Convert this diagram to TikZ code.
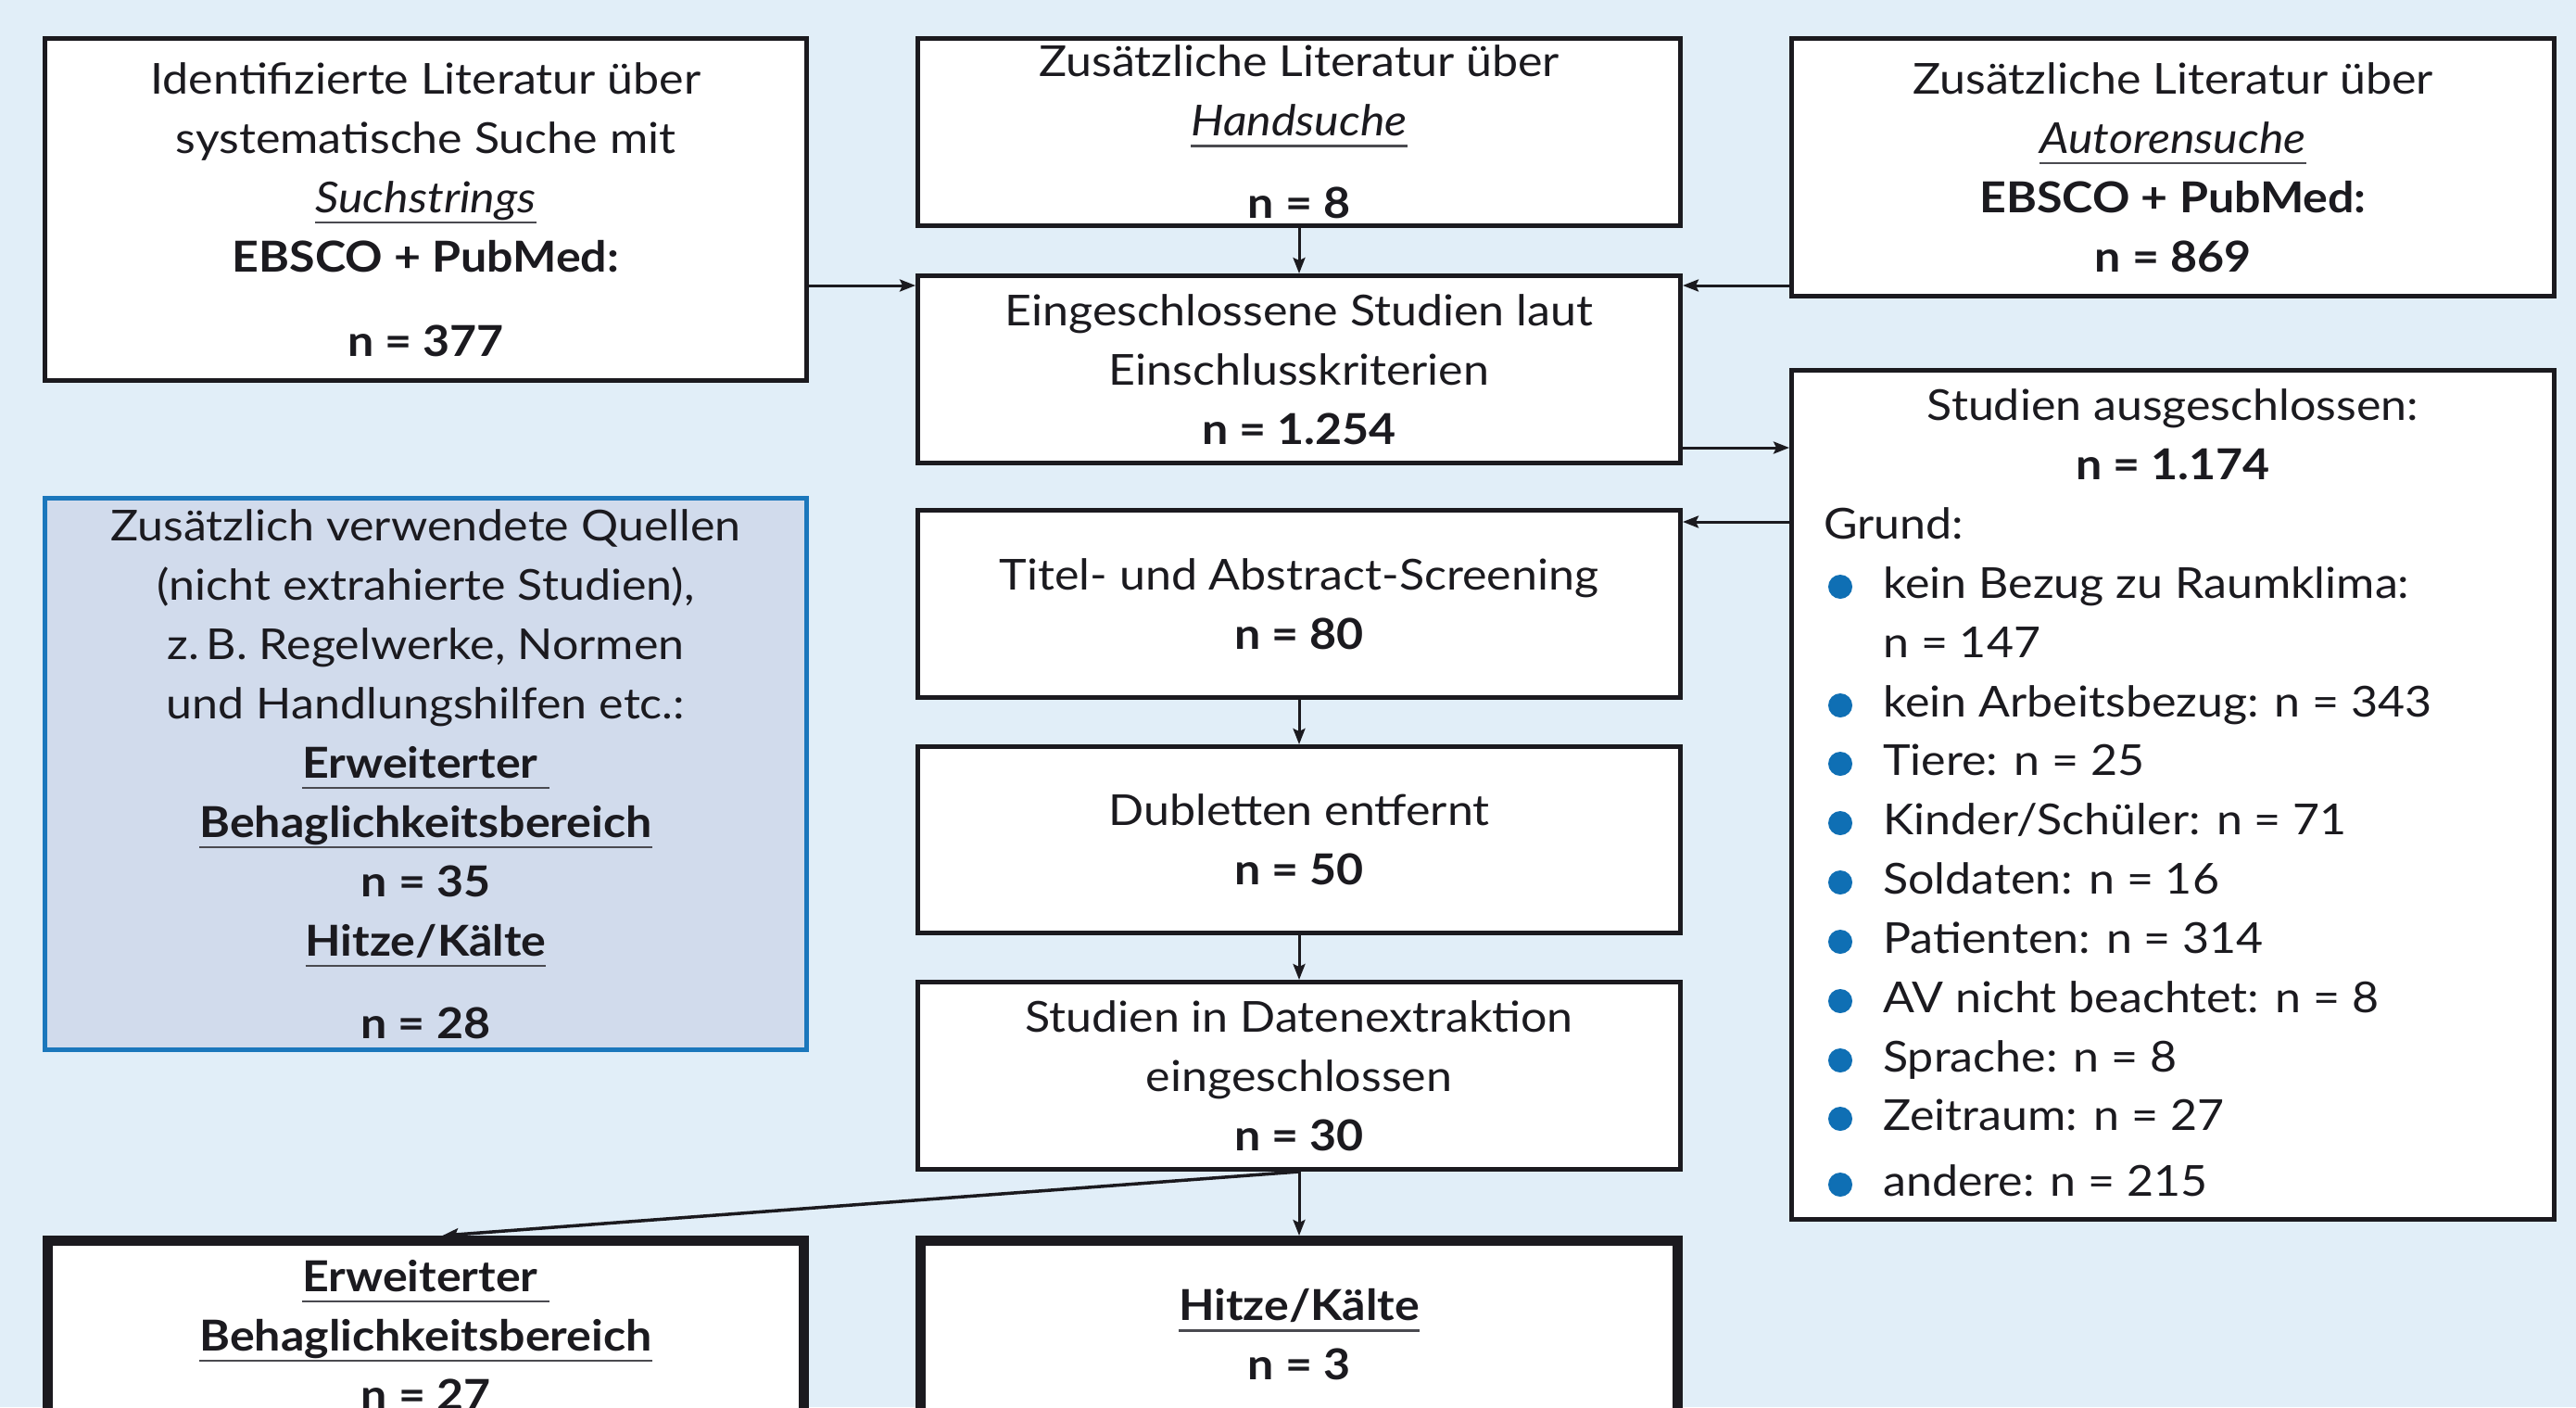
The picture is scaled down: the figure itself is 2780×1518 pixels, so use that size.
\documentclass[tikz,border=0pt]{standalone}
\usepackage{fontspec}
\setmainfont{Lato}[FakeStretch=1.09]
\usetikzlibrary{arrows.meta,calc}
\definecolor{bgblue}{HTML}{E1EEF8}
\definecolor{boxblue}{HTML}{D1DBEC}
\definecolor{borderblue}{HTML}{1B77BC}
\definecolor{bulblue}{HTML}{0F6FB4}
\definecolor{ink}{HTML}{1B1A1F}
\definecolor{ulgray}{HTML}{4A4A50}
\newcommand\myul[1]{\setbox0\hbox{#1}\leavevmode\rlap{\textcolor{ulgray}{\rule[-12pt]{\wd0}{2.5pt}}}\box0}
\tikzset{
  box/.style={draw=ink, line width=5pt, fill=white, rectangle, align=center,
    inner sep=0pt, font=\fontsize{46}{64}\selectfont, text=ink},
  bluebox/.style={box, draw=borderblue, fill=boxblue},
  thickbox/.style={box, line width=11pt},
  etxt/.style={inner sep=0pt, font=\fontsize{46}{64}\selectfont, text=ink},
  arr/.style={draw=ink, line width=3pt, -{Stealth[length=17pt,width=13pt,inset=3pt]}}
}
\begin{document}
\begin{tikzpicture}[x=1pt,y=-1pt]
\useasboundingbox (0,0) rectangle (2780,1518);
\begin{scope}
\clip (0,0) rectangle (2780,1518);
\fill[bgblue] (0,0) rectangle (2780,1518);

\node[box, minimum width=822pt, minimum height=369pt] (A) at (459.5,226)
  {Identifizierte Literatur über\\ systematische Suche mit\\ \myul{\itshape Suchstrings}\\
   \textbf{EBSCO + PubMed:}\\[27pt] \textbf{n = 377}};
\node[box, minimum width=823pt, minimum height=202pt] (B) at (1402,142.5)
  {Zusätzliche Literatur über\\ \myul{\itshape Handsuche}\\[25pt] \textbf{n = 8}};
\node[box, minimum width=823pt, minimum height=278pt] (C) at (2345,180.5)
  {Zusätzliche Literatur über\\ \myul{\itshape Autorensuche}\\ \textbf{EBSCO + PubMed:}\\ \textbf{n = 869}};
\node[box, minimum width=823pt, minimum height=202pt] (D) at (1402,398.5)
  {Eingeschlossene Studien laut\\ Einschlusskriterien\\ \textbf{n = 1.254}};
\node[box, minimum width=823pt, minimum height=916pt] (E) at (2345,857.5) {};
\node[bluebox, minimum width=822pt, minimum height=595pt] (F) at (459.5,835)
  {Zusätzlich verwendete Quellen\\ (nicht extrahierte Studien),\\ z.\,B. Regelwerke, Normen\\
   und Handlungshilfen etc.:\\ \textbf{\myul{Erweiterter\ }}\\ \textbf{\myul{Behaglichkeitsbereich}}\\
   \textbf{n = 35}\\ \textbf{\myul{Hitze/Kälte}}\\[25pt] \textbf{n = 28}};
\node[box, minimum width=823pt, minimum height=202pt] (G) at (1402,651.5)
  {Titel- und Abstract-Screening\\ \textbf{n = 80}};
\node[box, minimum width=823pt, minimum height=201pt] (H) at (1402,906)
  {Dubletten entfernt\\ \textbf{n = 50}};
\node[box, minimum width=823pt, minimum height=202pt] (I) at (1402,1160.5)
  {Studien in Datenextraktion\\ eingeschlossen\\ \textbf{n = 30}};
\node[thickbox, minimum width=816pt, minimum height=203pt] (J) at (459.5,1440)
  {\textbf{\myul{Erweiterter\ }}\\ \textbf{\myul{Behaglichkeitsbereich}}\\ \textbf{n = 27}};
\node[thickbox, minimum width=817pt, minimum height=203pt] (K) at (1402,1440)
  {\textbf{\myul{Hitze/Kälte}}\\ \textbf{n = 3}};

% text of the exclusion box
\node[etxt, anchor=base] (e1) at (2345,453) {Studien ausgeschlossen:};
\node[etxt, anchor=base] (e2) at (2345,517) {\bfseries n = 1.174};
\node[etxt, anchor=base west] (e3) at (1968,581) {Grund:};
\node[etxt, anchor=base west] (e4) at (2032,645) {kein Bezug zu Raumklima:};
\node[etxt, anchor=base west] (e5) at (2032,709) {n = 147};
\node[etxt, anchor=base west] (e6) at (2032,773) {kein Arbeitsbezug: n = 343};
\node[etxt, anchor=base west] (e7) at (2032,836) {Tiere: n = 25};
\node[etxt, anchor=base west] (e8) at (2032,900) {Kinder/Schüler: n = 71};
\node[etxt, anchor=base west] (e9) at (2032,964) {Soldaten: n = 16};
\node[etxt, anchor=base west] (e10) at (2032,1028) {Patienten: n = 314};
\node[etxt, anchor=base west] (e11) at (2032,1092) {AV nicht beachtet: n = 8};
\node[etxt, anchor=base west] (e12) at (2032,1156) {Sprache: n = 8};
\node[etxt, anchor=base west] (e13) at (2032,1219) {Zeitraum: n = 27};
\node[etxt, anchor=base west] (e14) at (2032,1290) {andere: n = 215};
\foreach \yy in {633,761,824,888,952,1016,1080,1144,1207,1278}
  \fill[bulblue] (1986,\yy) circle (13pt);

% connectors
\coordinate (pD1) at ($(D.north west)+(0,13)$);
\coordinate (pD2) at ($(D.north east)+(0,13)$);
\coordinate (pD3) at ($(D.south east)+(0,-19)$);
\coordinate (pG) at ($(G.north east)+(0,15)$);
\coordinate (pJ) at ($(J.north)+(18,0)$);
\draw[arr] (A.east |- pD1) -- (pD1);
\draw[arr] (C.west |- pD2) -- (pD2);
\draw[arr] (B.south) -- (D.north);
\draw[arr] (pD3) -- (pD3 -| E.west);
\draw[arr] (pG -| E.west) -- (pG);
\draw[arr] (G.south) -- (H.north);
\draw[arr] (H.south) -- (I.north);
\draw[arr] (I.south) -- (K.north);
\draw[arr, line width=3.5pt] (I.south) -- (pJ);
\end{scope}
\end{tikzpicture}
\end{document}
